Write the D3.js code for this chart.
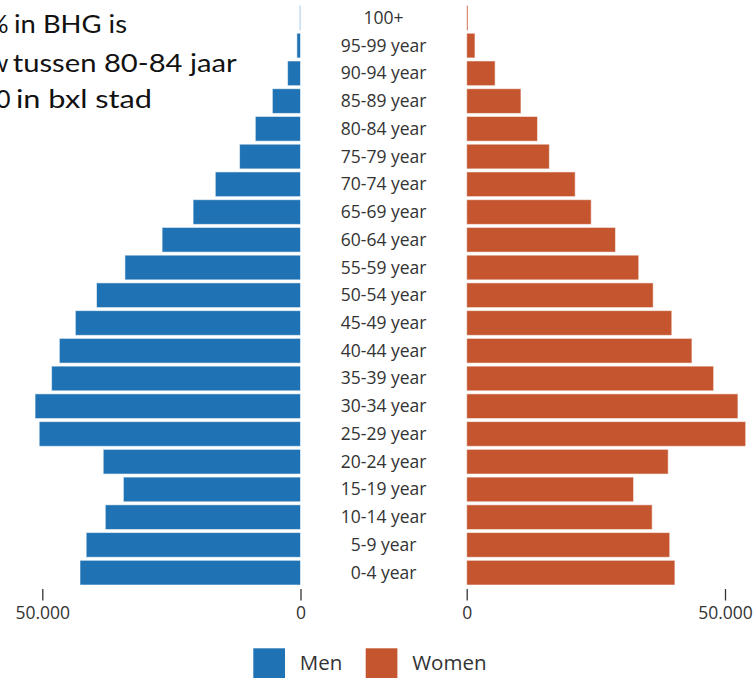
<!DOCTYPE html>
<html>
<head>
<meta charset="utf-8">
<script src="https://cdn.jsdelivr.net/npm/d3@7"></script>
<style>
  html, body { margin: 0; padding: 0; background: #fff; }
  svg { display: block; }
</style>
</head>
<body>
<svg id="chart" width="756" height="678"></svg>
<script>
// ---- data ----
const ageGroups = ["100+", "95-99 year", "90-94 year", "85-89 year", "80-84 year", "75-79 year",
  "70-74 year", "65-69 year", "60-64 year", "55-59 year", "50-54 year", "45-49 year",
  "40-44 year", "35-39 year", "30-34 year", "25-29 year", "20-24 year", "15-19 year",
  "10-14 year", "5-9 year", "0-4 year"];
const men = [150, 700, 2500, 5450, 8750, 11800, 16500, 20800, 26800, 34000, 39500, 43600,
  46700, 48200, 51400, 50600, 38200, 34300, 37800, 41500, 42700];
const women = [250, 1600, 5500, 10500, 13700, 16000, 21000, 24100, 28800, 33300, 36100, 39700,
  43600, 47800, 52500, 54000, 39000, 32300, 35900, 39300, 40300];
const tickValues = [0, 50000];
const seriesNames = ["Men", "Women"];
const seriesColors = ["#1f73b4", "#c4552e"];
const notePrefix = ["%", "w", "0"];
const noteLines = ["in BHG is", "tussen 80-84 jaar", "in bxl stad"];

// ---- layout ----
const svg = d3.select("#chart");
const fmt = v => v === 0 ? "0" : d3.format(",")(v).replace(/,/g, ".");

const y = d3.scaleBand().domain(ageGroups).range([5.5, 585]).paddingInner(0.11).paddingOuter(0);
const xL = d3.scaleLinear().domain([0, 50000]).range([300.5, 42.3]);
const xR = d3.scaleLinear().domain([0, 50000]).range([466.7, 725]);

const rows = ageGroups.map((g, i) => ({ g, m: men[i], w: women[i] }));

// bars
svg.append("g").selectAll("rect").data(rows).join("rect")
  .attr("x", d => xL(d.m))
  .attr("y", d => y(d.g))
  .attr("width", d => xL(0) - xL(d.m))
  .attr("height", y.bandwidth())
  .attr("fill", seriesColors[0])
  .attr("stroke", "#fff").attr("stroke-opacity", 0.55).attr("stroke-width", 1);

svg.append("g").selectAll("rect").data(rows).join("rect")
  .attr("x", xR(0))
  .attr("y", d => y(d.g))
  .attr("width", d => xR(d.w) - xR(0))
  .attr("height", y.bandwidth())
  .attr("fill", seriesColors[1])
  .attr("stroke", "#fff").attr("stroke-opacity", 0.55).attr("stroke-width", 1);

// age labels
svg.append("g").selectAll("text").data(rows).join("text")
  .attr("x", (xL(0) + xR(0)) / 2)
  .attr("y", d => y(d.g) + y.bandwidth() / 2 + 6)
  .attr("text-anchor", "middle")
  .attr("font-family", "'Open Sans', sans-serif")
  .attr("font-size", 17.5)
  .attr("fill", "#333")
  .text(d => d.g);

// axes
function styleAxis(g) {
  g.select(".domain").remove();
  g.selectAll(".tick line").attr("stroke", "#333").attr("stroke-width", 1.3).attr("y1", 4).attr("y2", 15.5);
  g.selectAll(".tick text").attr("y", 28).attr("dy", "0.32em")
    .attr("font-family", "'Open Sans', sans-serif").attr("font-size", 17.5).attr("fill", "#333");
}
svg.append("g").attr("transform", "translate(0,585)")
  .call(d3.axisBottom(xL).tickValues(tickValues).tickFormat(fmt).tickSize(0)).call(styleAxis);
svg.append("g").attr("transform", "translate(0,585)")
  .call(d3.axisBottom(xR).tickValues(tickValues).tickFormat(fmt).tickSize(0)).call(styleAxis);

// legend
const legX = [253.3, 365.7];
const lg = svg.append("g");
seriesNames.forEach((name, i) => {
  lg.append("rect").attr("x", legX[i]).attr("y", 648.3).attr("width", 31.7).attr("height", 32)
    .attr("fill", seriesColors[i]);
  lg.append("text").attr("x", legX[i] + 46.5).attr("y", 663).attr("dy", "0.35em")
    .attr("font-family", "'Open Sans', sans-serif").attr("font-size", 20.5).attr("fill", "#333")
    .text(name);
});

// overlay note (cropped at the left edge of the picture)
const noteStart = [14, 12.7, 16];
const noteWidth = [113, 224, 136];
const prefixEnd = [8.5, 8.5, 10.5];
const noteBase = [33.3, 71.7, 108.3];
const ng = svg.append("g").attr("font-family", "Lato, 'Open Sans', sans-serif")
  .attr("font-size", 25).attr("fill", "#111");
noteLines.forEach((t, i) => {
  ng.append("text").attr("x", prefixEnd[i]).attr("y", noteBase[i])
    .attr("text-anchor", "end").text(notePrefix[i]);
  ng.append("text").attr("x", noteStart[i]).attr("y", noteBase[i])
    .attr("textLength", noteWidth[i]).attr("lengthAdjust", "spacingAndGlyphs").text(t);
});
</script>
</body>
</html>
